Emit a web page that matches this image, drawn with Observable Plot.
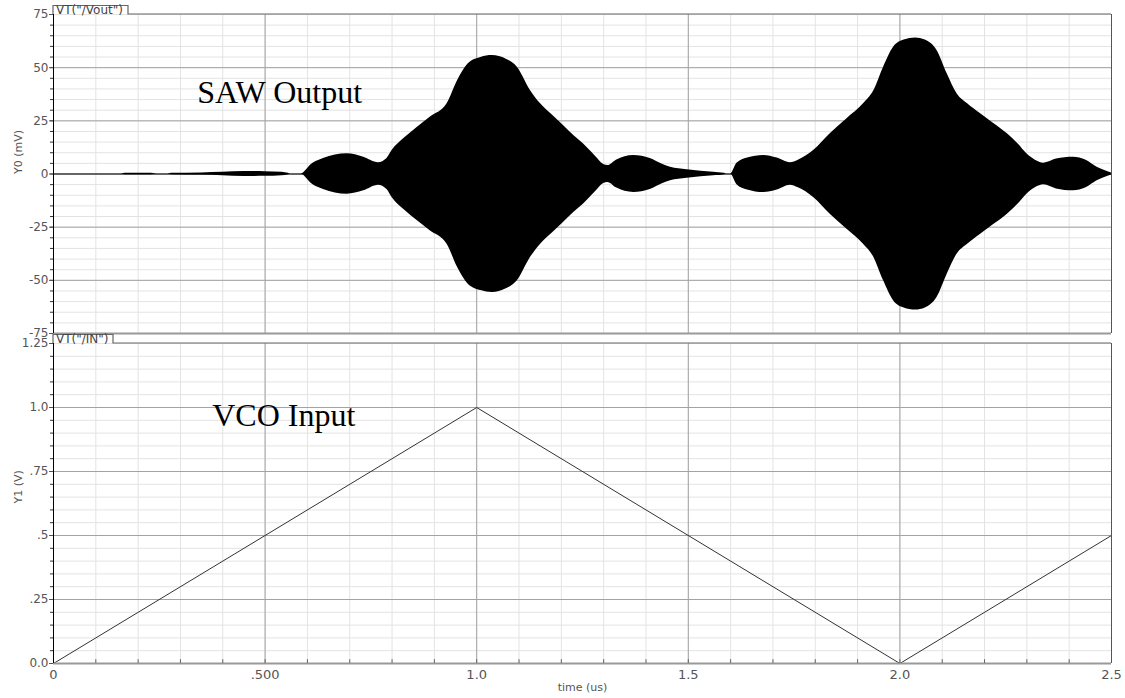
<!DOCTYPE html>
<html>
<head>
<meta charset="utf-8">
<script src="https://cdn.jsdelivr.net/npm/d3@7"></script>
<script src="https://cdn.jsdelivr.net/npm/@observablehq/plot@0.6"></script>
<style>
  html, body { margin: 0; padding: 0; background: white; overflow: hidden; }
  #chart svg { display: block; overflow: visible; background: transparent !important; }
</style>
</head>
<body>
<div id="chart"></div>
<script>
// ---- SAW output: envelope of the oscillating signal (time in us, amplitude in mV)
const sawTime = [0, 0.16, 0.17, 0.23, 0.245, 0.27, 0.28, 0.35, 0.40, 0.45, 0.50, 0.54, 0.555, 0.56, 0.585,
  0.60, 0.603, 0.638, 0.694, 0.733, 0.768, 0.788, 0.80, 0.83, 0.86, 0.89, 0.93, 0.955, 0.98, 1.01, 1.037,
  1.07, 1.096, 1.127, 1.151, 1.18, 1.205, 1.23, 1.252, 1.28, 1.30, 1.31, 1.33, 1.371, 1.41, 1.44, 1.458,
  1.497, 1.53, 1.56, 1.585, 1.59, 1.60, 1.615, 1.64, 1.678, 1.71, 1.741, 1.76, 1.796, 1.836, 1.875, 1.914,
  1.938, 1.961, 1.985, 2.01, 2.037, 2.06, 2.088, 2.112, 2.135, 2.16, 2.19, 2.22, 2.254, 2.28, 2.30, 2.32,
  2.34, 2.37, 2.41, 2.44, 2.466, 2.49, 2.5];
const sawAmp = [0, 0, 0.3, 0.3, 0, 0, 0.3, 0.5, 0.8, 1.2, 1.1, 0.8, 0.3, 0, 0,
  2.5, 3.2, 7.3, 9.5, 7.9, 5.3, 7.3, 11, 17, 22, 26.7, 33, 44, 51.8, 54.8, 55.7,
  54, 50.2, 39.3, 33, 27.5, 22.8, 18, 14.2, 8.5, 4.5, 4, 6.5, 8.7, 7.3, 4.5, 3.2,
  2, 1.3, 0.8, 0.3, 0, 0, 5, 7.5, 8.7, 7.5, 5.3, 6.5, 11, 19, 26, 33,
  39, 50, 59.6, 63, 64, 63, 58, 47, 37.7, 33, 28.4, 24, 18.9, 14, 9.5, 6.5,
  5.1, 7, 7.9, 6.5, 3.2, 1.2, 0.5];

// ---- VCO input (time in us, volts)
const vcoTime = [0, 1, 2, 2.5];
const vcoVolt = [0, 1, 0, 0.5];

// ---- ticks and labels
const xTicks = [0, 0.5, 1, 1.5, 2, 2.5];
const xTickLabels = ["0", ".500", "1.0", "1.5", "2.0", "2.5"];
const y0Ticks = [-75, -50, -25, 0, 25, 50, 75];
const y0TickLabels = ["-75", "-50", "-25", "0", "25", "50", "75"];
const y1Ticks = [0, 0.25, 0.5, 0.75, 1, 1.25];
const y1TickLabels = ["0.0", ".25", ".5", ".75", "1.0", "1.25"];
const y0Title = "Y0 (mV)";
const y1Title = "Y1 (V)";
const xTitle = "time (us)";
const traceTop = 'VT("/Vout")';
const traceBottom = 'VT("/IN")';
const notes = [
  {panel: 0, t: 0.3396, v: 36.1, text: "SAW Output"},
  {panel: 1, t: 0.375, v: 0.9515, text: "VCO Input"}
];

const saw = sawTime.map((t, i) => ({t, a: sawAmp[i]}));
const vco = vcoTime.map((t, i) => ({t, v: vcoVolt[i]}));

const minorX = d3.range(0, 2.5001, 0.1);
const minorY0 = d3.range(-75, 75.001, 5);
const minorY1 = d3.range(0, 1.2501, 0.05);
const fmt = (ticks, labels) => d => labels[ticks.findIndex(v => Math.abs(v - d) < 1e-9)];

const W = 1125, ML = 53, MR = 14;
const minorColor = "#e3e3e3", majorColor = "#a3a3a3", textColor = "#555";
const baseStyle = {fontFamily: "DejaVu Sans, sans-serif", fontSize: "12px", background: "transparent", color: "#333", overflow: "visible"};

const topPlot = Plot.plot({
  width: W, height: 335, marginLeft: ML, marginRight: MR, marginTop: 14, marginBottom: 2,
  style: baseStyle,
  x: {domain: [0, 2.5], axis: null, label: null},
  y: {domain: [-75, 75], axis: null, label: null},
  marks: [
    Plot.gridX(minorX, {stroke: minorColor, strokeOpacity: 1}),
    Plot.gridY(minorY0, {stroke: minorColor, strokeOpacity: 1}),
    Plot.gridX(xTicks.slice(1, -1), {stroke: majorColor, strokeOpacity: 1}),
    Plot.gridY(y0Ticks.slice(1, -1), {stroke: majorColor, strokeOpacity: 1}),
    Plot.areaY(saw, {x: "t", y1: d => -d.a, y2: d => d.a, fill: "black", curve: "monotone-x"}),
    Plot.ruleY([0], {stroke: "black", strokeWidth: 1}),
    Plot.ruleY([-75], {stroke: "#999", strokeWidth: 2}),
    Plot.ruleX([2.5], {stroke: "#555", strokeWidth: 1}),
    Plot.ruleX([0], {stroke: "black", strokeWidth: 1}),
    Plot.axisY(minorY0, {tickSize: 3, tickFormat: () => "", color: "#333", label: null}),
    Plot.axisY(y0Ticks, {tickSize: 4, tickPadding: 1, tickFormat: fmt(y0Ticks, y0TickLabels), color: textColor, label: null}),
    Plot.text([y0Title], {frameAnchor: "left", rotate: -90, dx: -35, text: d => d, fill: textColor, fontSize: 11}),
    Plot.text(notes.filter(d => d.panel === 0), {x: "t", y: "v", text: "text", textAnchor: "start", lineAnchor: "bottom",
      fontFamily: "Liberation Serif, Times New Roman, serif", fontSize: 32, fill: "black", dy: 6})
  ]
});

const botPlot = Plot.plot({
  width: W, height: 363, marginLeft: ML, marginRight: MR, marginTop: 8, marginBottom: 35,
  style: baseStyle,
  x: {domain: [0, 2.5], axis: null, label: null},
  y: {domain: [0, 1.25], axis: null, label: null},
  marks: [
    Plot.gridX(minorX, {stroke: minorColor, strokeOpacity: 1}),
    Plot.gridY(minorY1, {stroke: minorColor, strokeOpacity: 1}),
    Plot.gridX(xTicks.slice(1, -1), {stroke: majorColor, strokeOpacity: 1}),
    Plot.gridY(y1Ticks.slice(1, -1), {stroke: majorColor, strokeOpacity: 1}),
    Plot.line(vco, {x: "t", y: "v", stroke: "#333", strokeWidth: 1}),
    Plot.ruleY([0], {stroke: "#999", strokeWidth: 2}),
    Plot.ruleX(minorX, {y1: 0, y2: 0.015, stroke: "#666"}),
    Plot.ruleX([2.5], {stroke: "#555", strokeWidth: 1}),
    Plot.ruleX([0], {stroke: "black", strokeWidth: 1}),
    Plot.axisY(minorY1, {tickSize: 3, tickFormat: () => "", color: "#333", label: null}),
    Plot.axisY(y1Ticks, {tickSize: 4, tickPadding: 1, tickFormat: fmt(y1Ticks, y1TickLabels), color: textColor, label: null}),
    Plot.axisX(xTicks, {tickSize: 0, tickPadding: 6, tickFormat: fmt(xTicks, xTickLabels), color: textColor, label: null, fontSize: 13}),
    Plot.text([xTitle], {frameAnchor: "bottom", dy: 27, text: d => d, fill: textColor, fontSize: 11}),
    Plot.text([y1Title], {frameAnchor: "left", rotate: -90, dx: -35, text: d => d, fill: textColor, fontSize: 11}),
    Plot.text(notes.filter(d => d.panel === 1), {x: "t", y: "v", text: "text", textAnchor: "start", lineAnchor: "bottom",
      fontFamily: "Liberation Serif, Times New Roman, serif", fontSize: 32, fill: "black", dy: 6})
  ]
});

// trace-name tabs on top of each panel
function addTab(svg, label, plotTop, tabWidth) {
  const s = d3.select(svg);
  const g = s.append("g");
  const x0 = ML, x1 = ML + tabWidth, right = W - MR;
  g.append("path")
    .attr("d", `M${x0},${plotTop} V${plotTop - 8.5} H${x1} V${plotTop} H${right}`)
    .attr("fill", "none").attr("stroke", "#666").attr("stroke-width", 1.2);
  g.append("text")
    .attr("x", x0 + 3).attr("y", plotTop - 0.5)
    .attr("text-anchor", "start")
    .attr("font-family", "DejaVu Sans, sans-serif").attr("font-size", 12)
    .attr("fill", "#444").text(label);
}
addTab(topPlot, traceTop, 14, 75);
addTab(botPlot, traceBottom, 8, 60);

document.getElementById("chart").append(topPlot, botPlot);
</script>
</body>
</html>
